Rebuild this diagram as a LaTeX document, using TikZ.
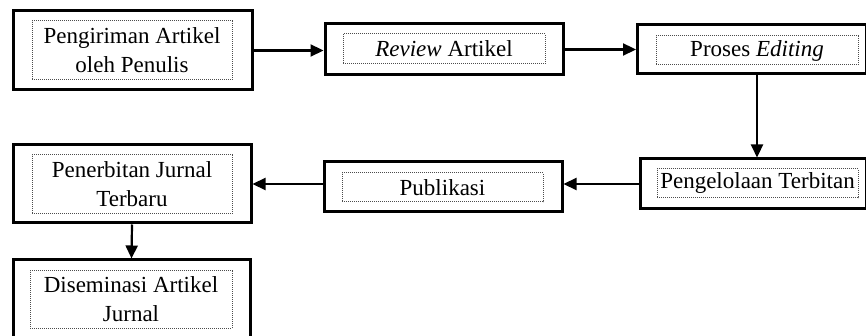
\documentclass[tikz,border=0pt]{standalone}
\usepackage{fontspec}
\setmainfont{Liberation Serif}
\usepackage{tikz}
\usetikzlibrary{arrows.meta,positioning,calc}

\begin{document}
\begin{tikzpicture}[x=1pt,y=-1pt,>={Triangle[length=13pt,width=12pt]},
  font=\fontsize{23}{29}\selectfont,
  outerbox/.style={draw,line width=3pt,inner sep=0pt},
  innerbox/.style={draw=black!70,dash pattern=on 1pt off 1pt,line width=1pt,inner sep=0pt,align=center},
  flow/.style={->,line width=2.2pt}]
  \useasboundingbox (0,0) rectangle (866,336);
  % outer frames
  \node[outerbox,minimum width=239pt,minimum height=79pt] (kirim) at (132.5,50.5) {};
  \node[outerbox,minimum width=238pt,minimum height=51pt] (review) at (444,49.5) {};
  \node[outerbox,minimum width=229pt,minimum height=49pt] (edit) at (752,49.5) {};
  \node[outerbox,minimum width=226pt,minimum height=50pt] (kelola) at (753,184) {};
  \node[outerbox,minimum width=238pt,minimum height=50pt] (publik) at (443,187) {};
  \node[outerbox,minimum width=238pt,minimum height=78pt] (terbit) at (132,184) {};
  \node[outerbox,minimum width=237pt,minimum height=79pt] (sebar) at (131.5,299.5) {};
  % dotted text frames
  \node[innerbox,minimum width=200pt,minimum height=59pt] (kirimT) at (132,50.5)
       {Pengiriman Artikel\\oleh Penulis};
  \node[innerbox,minimum width=202pt,minimum height=30pt] (reviewT) at (444,49)
       {\textit{Review} Artikel};
  \node[innerbox,minimum width=202pt,minimum height=29pt] (editT) at (757,50.5)
       {Proses \textit{Editing}};
  \node[innerbox,minimum width=201pt,minimum height=29pt] (kelolaT) at (757.5,183.5)
       {Pengelolaan Terbitan};
  \node[innerbox,minimum width=201pt,minimum height=29pt] (publikT) at (442.5,187.5)
       {Publikasi};
  \node[innerbox,minimum width=200pt,minimum height=59pt] (terbitT) at (132,184.5)
       {Penerbitan Jurnal\\Terbaru};
  \node[innerbox,minimum width=202pt,minimum height=57pt] (sebarT) at (131,299.5)
       {Diseminasi Artikel\\Jurnal};
  % arrows
  \draw[flow] (kirim.east) -- (kirim.east -| review.west);
  \draw[flow] (review.east) -- (review.east -| edit.west);
  \draw[flow] (edit.south -| editT) -- (kelola.north -| editT);
  \draw[flow] (kelola.west) -- (kelola.west -| publik.east);
  \draw[flow] (terbit.east -| publik.west) -- (terbit.east);
  \draw[flow] (terbit.south) -- (sebar.north);
\end{tikzpicture}
\end{document}
